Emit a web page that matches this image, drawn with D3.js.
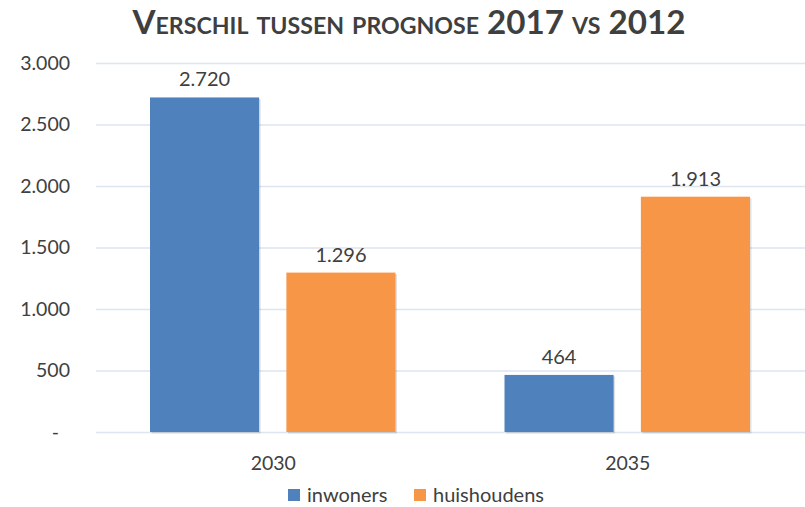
<!DOCTYPE html>
<html><head><meta charset="utf-8">
<script src="https://cdn.jsdelivr.net/npm/d3@7"></script>
<style>
html,body{margin:0;padding:0;background:#fff;}
svg{display:block;font-family:Lato,"Open Sans",sans-serif;}
</style></head>
<body>
<svg id="chart" width="805" height="507"></svg>
<script>
const categories = ["2030", "2035"];
const seriesNames = ["inwoners", "huishoudens"];
const inwoners = [2720, 464];
const huishoudens = [1296, 1913];
const yTicks = [0, 500, 1000, 1500, 2000, 2500, 3000];
const colors = ["#4F81BD", "#F79646"];
const titleText = "Verschil tussen prognose 2017 vs 2012";

const values = [inwoners, huishoudens];
const fmt = v => v === 0 ? "-" : d3.format(",")(v).replace(/,/g, ".");

const svg = d3.select("#chart");
const W = 805, H = 507;
const m = {left: 96, right: 0, top: 63, bottom: 75};

const x0 = d3.scaleBand().domain(categories).range([m.left, W - m.right]).padding(0);
const x1 = d3.scaleBand().domain(seriesNames).range([54, x0.bandwidth() - 55]).paddingInner(0.2).paddingOuter(0);
const y = d3.scaleLinear().domain([0, 3000]).range([H - m.bottom, m.top]);

// gridlines
svg.append("g").selectAll("line").data(yTicks).join("line")
  .attr("x1", m.left).attr("x2", W - m.right)
  .attr("y1", d => y(d) + 0.5).attr("y2", d => y(d) + 0.5)
  .attr("stroke", "#DCE5F0").attr("stroke-width", 1.3);

// y axis
const yAxis = d3.axisLeft(y).tickValues(yTicks).tickFormat(fmt).tickSize(0).tickPadding(0);
const ya = svg.append("g").attr("transform", "translate(70,0)").call(yAxis);
ya.select(".domain").remove();
ya.selectAll("text").attr("font-size", 19.5).attr("fill", "#404040")
  .attr("font-family", "Lato, sans-serif")
  .attr("dx", d => d === 0 ? -11 : 0);

// x axis labels
const xAxis = d3.axisBottom(x0).tickSize(0).tickPadding(0);
const xa = svg.append("g").attr("transform", `translate(0,${y(0) + 24})`).call(xAxis);
xa.select(".domain").remove();
xa.selectAll("text").attr("font-size", 19.5).attr("fill", "#404040").attr("font-family", "Lato, sans-serif");

// bars
const groups = svg.append("g").selectAll("g").data(categories).join("g")
  .attr("transform", d => `translate(${x0(d)},0)`);

const barData = (c, ci) => seriesNames.map((s, si) => ({s, si, v: values[si][ci]}));

groups.each(function(c, ci) {
  const g = d3.select(this);
  const data = barData(c, ci);
  g.selectAll("rect.sh").data(data).join("rect").attr("class", "sh")
    .attr("x", d => x1(d.s) + 1.5).attr("y", d => y(d.v) + 1.5)
    .attr("width", x1.bandwidth()).attr("height", d => y(0) - y(d.v))
    .attr("fill", "#000").attr("opacity", 0.12);
  g.selectAll("rect.bar").data(data).join("rect").attr("class", "bar")
    .attr("x", d => x1(d.s)).attr("y", d => y(d.v))
    .attr("width", x1.bandwidth()).attr("height", d => y(0) - y(d.v))
    .attr("fill", d => colors[d.si]);
  g.selectAll("text").data(data).join("text")
    .attr("x", d => x1(d.s) + x1.bandwidth() / 2).attr("y", d => y(d.v) - 11)
    .attr("text-anchor", "middle").attr("font-size", 20).attr("fill", "#404040")
    .text(d => fmt(d.v));
});

// title
svg.append("text").attr("x", 409).attr("y", 34).attr("text-anchor", "middle")
  .attr("font-size", 33).attr("font-weight", 700).attr("fill", "#3F3F3F")
  .style("font-variant", "small-caps")
  .attr("textLength", 553).attr("lengthAdjust", "spacingAndGlyphs")
  .text(titleText);

// legend
const legendItems = [{name: "inwoners", x: 288}, {name: "huishoudens", x: 414}];
const lg = svg.append("g").selectAll("g").data(seriesNames).join("g")
  .attr("transform", (d, i) => `translate(${legendItems[i].x},0)`);
lg.append("rect").attr("x", 0).attr("y", 489).attr("width", 12).attr("height", 12)
  .attr("fill", (d, i) => colors[i]);
lg.append("text").attr("x", 19).attr("y", 502).attr("font-size", 20).attr("fill", "#404040")
  .text(d => d);
</script>
</body></html>
